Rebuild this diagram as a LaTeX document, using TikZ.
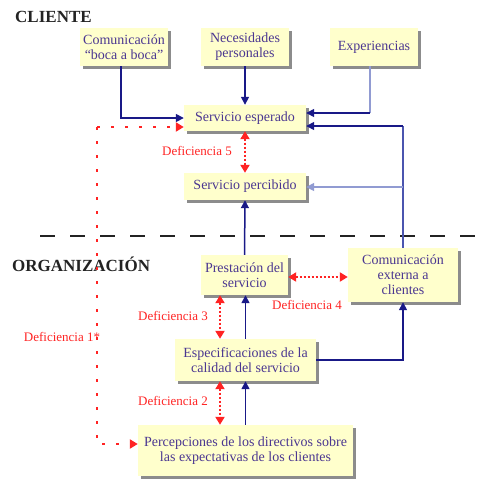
\documentclass[tikz,border=0pt]{standalone}
\usepackage{fontspec}
\setmainfont{Liberation Serif}
\usetikzlibrary{shadows,arrows.meta,calc}
\definecolor{boxfill}{RGB}{255,255,204}
\definecolor{boxtext}{RGB}{75,55,145}
\definecolor{navy}{RGB}{25,25,135}
\definecolor{midblue}{RGB}{75,85,175}
\definecolor{lightblue}{RGB}{145,155,210}
\definecolor{defred}{RGB}{255,35,35}
\definecolor{headgray}{RGB}{35,35,35}
\tikzset{
  x=1pt,y=-1pt,
  box/.style={fill=boxfill,draw=none,text=boxtext,align=center,inner sep=0pt,
    font=\fontsize{14}{15}\selectfont,
    drop shadow={shadow xshift=3pt,shadow yshift=-3pt,fill=black!45,opacity=1}},
  conn/.style={line width=1.5pt,-{Triangle[length=8pt,width=8pt]}},
  redlab/.style={text=defred,font=\fontsize{13}{14}\selectfont,inner sep=0pt},
  head/.style={text=headgray,font=\fontsize{17}{19}\selectfont\bfseries,inner sep=0pt,anchor=west},
  defshort/.style={defred,line width=2pt,dash pattern=on 2pt off 2pt,
    {Triangle[length=8pt,width=9pt]}-{Triangle[length=8pt,width=9pt]}},
  deflong/.style={defred,line width=2.5pt,dash pattern=on 2.5pt off 11.5pt,
    -{Triangle[length=8pt,width=9pt]}}
}
\begin{document}
\begin{tikzpicture}
\useasboundingbox (0,0) rectangle (486,480);
% headings
\node[head] (cli) at (15,17) {CLIENTE};
\node[head] (org) at (12,264) {ORGANIZACIÓN};
% separator
\draw[headgray,line width=2.8pt,dash pattern=on 15pt off 15pt] (40,236) -- (486,236);
% boxes
\node[box,minimum width=88pt,minimum height=38pt] (boca) at (124,47) {Comunicación\\``boca a boca''};
\node[box,minimum width=88pt,minimum height=38pt] (nec) at (245,47) {Necesidades\\personales};
\node[box,minimum width=88pt,minimum height=38pt] (exp) at (374,47) {Experiencias};
\node[box,minimum width=122pt,minimum height=26pt] (esp) at (245,118) {Servicio esperado};
\node[box,minimum width=122pt,minimum height=27pt] (per) at (245,186.5) {Servicio percibido};
\node[box,minimum width=87pt,minimum height=40pt] (pres) at (244.5,275) {Prestación del\\servicio};
\node[box,minimum width=110pt,minimum height=54pt] (ext) at (403,275) {Comunicación\\externa a\\clientes};
\node[box,minimum width=141pt,minimum height=42pt] (espec) at (245.5,360) {Especificaciones de la\\calidad del servicio};
\node[box,minimum width=215pt,minimum height=51pt] (perc) at (245.5,450.5) {Percepciones de los directivos sobre\\las expectativas de los clientes};
% connectors
\coordinate (bocaout) at ([xshift=-3pt]boca.south);
\draw[conn,navy] (bocaout) |- (esp.west |- 0,118);
\draw[conn,navy] (nec.south) -- (esp.north);
\coordinate (expout) at ([xshift=-4pt]exp.south);
\coordinate (expcorner) at (expout |- 0,113);
\draw[lightblue,line width=1.5pt] (expout) -- (expcorner);
\draw[conn,navy] (expcorner) -- (esp.east |- 0,113);
\coordinate (extcorner) at (ext.north |- 0,126);
\draw[midblue,line width=1.5pt] (ext.north) -- (extcorner);
\draw[conn,navy] (extcorner) -- (esp.east |- 0,126);
\draw[conn,lightblue] (ext.north |- 0,187) -- (per.east |- 0,187);
\draw[conn,navy] (pres.north) -- (per.south);
\draw[conn,navy] (espec.north) -- (pres.south -| espec.north);
\draw[conn,navy] (perc.north) -- (espec.south);
\draw[conn,navy] (espec.east) -| (ext.south);
% deficiencies
\draw[defshort] (esp.south) -- (per.north);
\draw[defshort] (pres.south -| 220,0) -- (espec.north -| 220,0);
\draw[defshort] (espec.south -| 220,0) -- (perc.north -| 220,0);
\draw[defshort] (pres.east |- 0,277) -- (ext.west |- 0,277);
\coordinate (d1top) at (97,127);
\coordinate (d1bot) at (97,444);
\draw[deflong] (d1top) -- (esp.west |- d1top);
\draw[deflong] (d1top) -- (d1bot) -- (perc.west |- d1bot);
\node[redlab,anchor=east] (d5) at (232,151) {Deficiencia 5};
\node[redlab,anchor=east] (d3) at (208,316) {Deficiencia 3};
\node[redlab,anchor=east] (d2) at (208,401) {Deficiencia 2};
\node[redlab,anchor=west] (d4) at (272,305) {Deficiencia 4};
\node[redlab] (d1) at (62,337) {Deficiencia 1*};
\end{tikzpicture}
\end{document}
